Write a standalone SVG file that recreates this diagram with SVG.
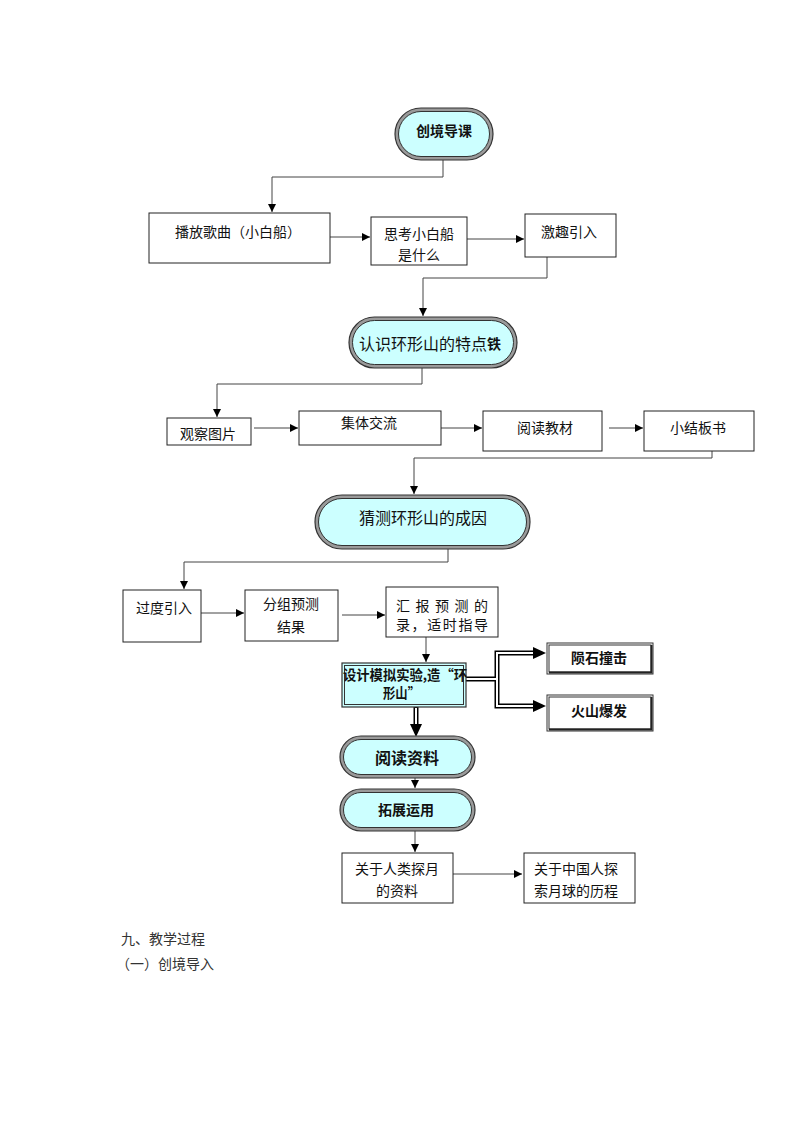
<svg xmlns="http://www.w3.org/2000/svg" width="800" height="1132" viewBox="0 0 800 1132">
<style>
text{font-family:"Noto Sans CJK SC","Noto Sans",sans-serif;font-size:14px;fill:#111;dominant-baseline:central}
.c{text-anchor:middle}
.b{font-weight:bold}
.box{fill:#fff;stroke:#222;stroke-width:1}
.po{fill:#9a9a9a;stroke:#333;stroke-width:1.2}
.pi{fill:#ccffff;stroke:#333;stroke-width:1}
.ln{fill:none;stroke:#444;stroke-width:1}
.dbk{fill:none;stroke:#000;stroke-width:5}
.dwh{fill:none;stroke:#fff;stroke-width:2}
</style>
<defs>
<marker id="arr" viewBox="0 0 10 10" refX="10" refY="5" markerWidth="9" markerHeight="8" markerUnits="userSpaceOnUse" orient="auto"><path d="M0,0 L10,5 L0,10 z" fill="#000"/></marker>
</defs>
<rect width="800" height="1132" fill="#fff"/>

<g id="connectors">
<path class="ln" d="M443,160 V177 H272 V212" marker-end="url(#arr)"/>
<path class="ln" d="M330,237 H370" marker-end="url(#arr)"/>
<path class="ln" d="M467,239 H524" marker-end="url(#arr)"/>
<path class="ln" d="M547,257 V278 H423 V316" marker-end="url(#arr)"/>
<path class="ln" d="M422,368 V384 H217 V417" marker-end="url(#arr)"/>
<path class="ln" d="M254,428 H298" marker-end="url(#arr)"/>
<path class="ln" d="M437,428 H482" marker-end="url(#arr)"/>
<path class="ln" d="M609,428 H643" marker-end="url(#arr)"/>
<path class="ln" d="M712,451 V458 H414 V494" marker-end="url(#arr)"/>
<path class="ln" d="M448,549 V562 H184 V589" marker-end="url(#arr)"/>
<path class="ln" d="M195,613 H244" marker-end="url(#arr)"/>
<path class="ln" d="M342,615 H385" marker-end="url(#arr)"/>
<path class="ln" d="M426,637 V662" marker-end="url(#arr)"/>
<path class="dbk" d="M535,653 H497 V706 H535"/>
<path class="dbk" d="M460,679 H497"/>
<path class="dbk" d="M416,707 V726"/>
<path class="dwh" d="M535,653 H497 V706 H535"/>
<path class="dwh" d="M460,679 H497"/>
<path class="dwh" d="M416,708 V726"/>
<polygon points="533,647 546,653 533,659" fill="#000"/>
<polygon points="533,700 546,706 533,712" fill="#000"/>
<polygon points="410,724 416,737 422,724" fill="#000"/>
<path class="ln" d="M415,778 V788" marker-end="url(#arr)"/>
<path class="ln" d="M415,831 V852" marker-end="url(#arr)"/>
<path class="ln" d="M451,874 H522" marker-end="url(#arr)"/>
</g>

<g id="n-chuangjing">
<rect class="po" x="395" y="108" width="98" height="52" rx="26"/>
<rect class="pi" x="398.5" y="111.5" width="91" height="45" rx="22.5"/>
<text class="c b" x="444" y="130">创境导课</text>
</g>

<g id="n-bofang">
<rect class="box" x="149" y="213" width="181" height="50"/>
<text class="c" x="238" y="231">播放歌曲（小白船）</text>
</g>

<g id="n-sikao">
<rect class="box" x="371" y="217" width="96" height="48"/>
<text class="c" x="419" y="233">思考小白船</text>
<text class="c" x="419" y="254">是什么</text>
</g>

<g id="n-jiqu">
<rect class="box" x="525" y="214" width="91" height="43"/>
<text class="c" x="569" y="231">激趣引入</text>
</g>

<g id="n-renshi">
<rect class="po" x="349" y="317" width="168" height="51" rx="25.5"/>
<rect class="pi" x="352.5" y="320.5" width="161" height="44" rx="22"/>
<text class="c" x="430" y="343" style="font-size:16px">认识环形山的特点<tspan class="b" style="font-size:14px">铁</tspan></text>
</g>

<g id="n-guancha">
<rect class="box" x="167" y="418" width="84" height="27"/>
<text class="c" x="208" y="433">观察图片</text>
</g>

<g id="n-jiti">
<rect class="box" x="299" y="411" width="142" height="34"/>
<text class="c" x="369" y="422">集体交流</text>
</g>

<g id="n-yuedu">
<rect class="box" x="483" y="411" width="119" height="40"/>
<text class="c" x="545" y="427">阅读教材</text>
</g>

<g id="n-xiaojie">
<rect class="box" x="644" y="411" width="110" height="40"/>
<text class="c" x="698" y="427">小结板书</text>
</g>

<g id="n-caice">
<rect class="po" x="315" y="495" width="215" height="54" rx="27"/>
<rect class="pi" x="318.5" y="498.5" width="208" height="47" rx="23.5"/>
<text class="c" x="423" y="517" style="font-size:16px">猜测环形山的成因</text>
</g>

<g id="n-guodu">
<rect class="box" x="123" y="590" width="78" height="52"/>
<text x="136" y="607">过度引入</text>
</g>

<g id="n-fenzu">
<rect class="box" x="245" y="590" width="93" height="51"/>
<text class="c" x="291" y="603">分组预测</text>
<text class="c" x="291" y="626">结果</text>
</g>

<g id="n-huibao">
<rect class="box" x="386" y="587" width="112" height="50"/>
<text x="396" y="605" textLength="92" lengthAdjust="spacing">汇报预测的</text>
<text x="396" y="624" textLength="92" lengthAdjust="spacing">录，适时指导</text>
</g>

<g id="n-sheji">
<rect x="342" y="663" width="124" height="44" fill="#ccffff" stroke="#333" stroke-width="1.2"/>
<rect x="344.5" y="665.5" width="119" height="39" fill="none" stroke="#333" stroke-width="1"/>
<text class="b" x="343" y="674" textLength="124" lengthAdjust="spacingAndGlyphs">设计模拟实验,造“环</text>
<text class="b" x="383" y="692" textLength="37" lengthAdjust="spacingAndGlyphs">形山”</text>
</g>

<g id="n-yunshi">
<rect x="547" y="643" width="106" height="31" fill="#fff" stroke="#333" stroke-width="1"/>
<rect x="549" y="645" width="102" height="27" fill="none" stroke="#333" stroke-width="1"/>
<path d="M549,672.5 H651.5 V645" fill="none" stroke="#222" stroke-width="2"/>
<text class="c b" x="599" y="657">陨石撞击</text>
</g>

<g id="n-huoshan">
<rect x="547" y="695" width="106" height="36" fill="#fff" stroke="#333" stroke-width="1"/>
<rect x="549" y="697" width="102" height="32" fill="none" stroke="#333" stroke-width="1"/>
<path d="M549,729.5 H651.5 V697" fill="none" stroke="#222" stroke-width="2"/>
<text class="c b" x="599" y="710">火山爆发</text>
</g>

<g id="n-yueduziliao">
<rect class="po" x="340" y="736" width="135" height="42" rx="21"/>
<rect class="pi" x="343.5" y="739.5" width="128" height="35" rx="17.5"/>
<text class="c b" x="407" y="757" style="font-size:16px">阅读资料</text>
</g>

<g id="n-tuozhan">
<rect class="po" x="340" y="789" width="135" height="42" rx="21"/>
<rect class="pi" x="343.5" y="792.5" width="128" height="35" rx="17.5"/>
<text class="c b" x="406" y="809">拓展运用</text>
</g>

<g id="n-renlei">
<rect class="box" x="342" y="853" width="111" height="50"/>
<text class="c" x="397" y="868">关于人类探月</text>
<text class="c" x="397" y="890">的资料</text>
</g>

<g id="n-zhongguo">
<rect class="box" x="524" y="853" width="111" height="50"/>
<text class="c" x="576" y="868">关于中国人探</text>
<text class="c" x="576" y="890">索月球的历程</text>
</g>

<g id="body-text">
<text x="121" y="938" style="fill:#333">九、教学过程</text>
<text x="116" y="963" style="fill:#333">（一）创境导入</text>
</g>
</svg>
